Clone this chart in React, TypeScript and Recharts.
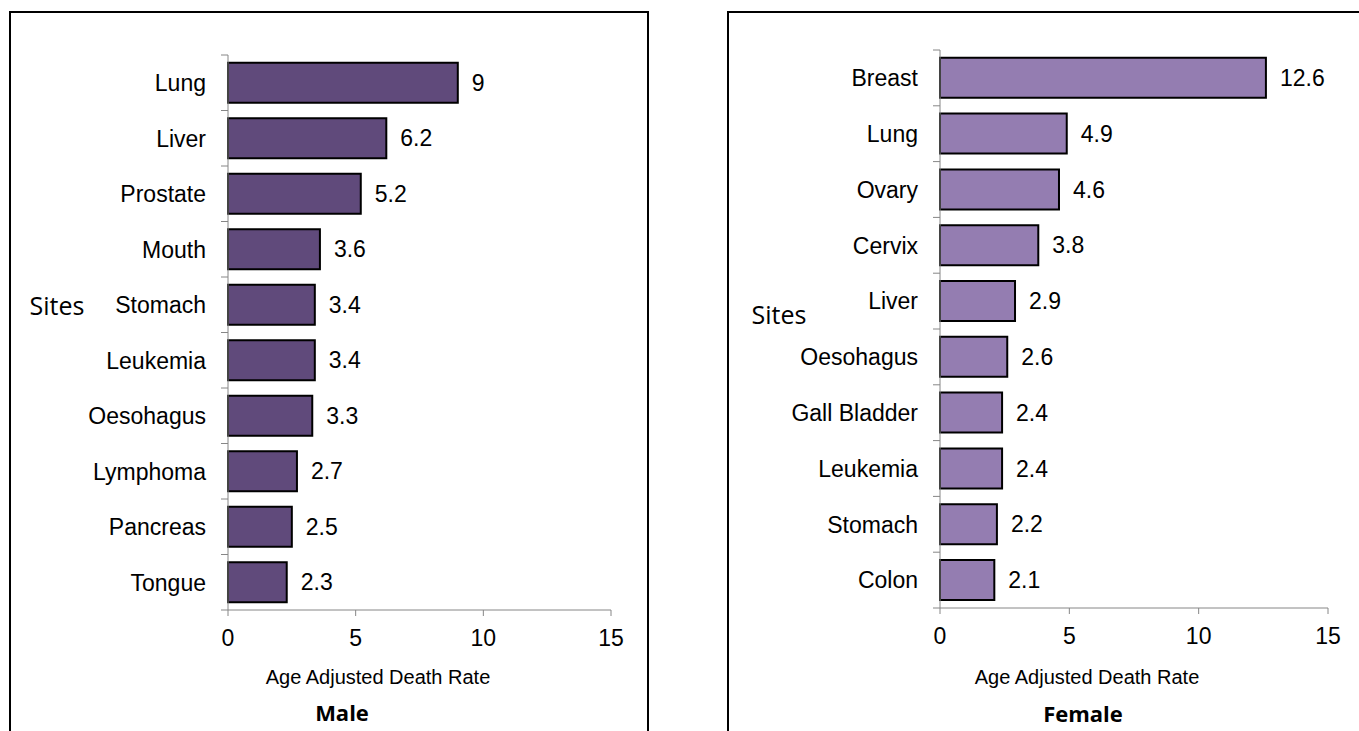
import React from "react";
import { Bar, BarChart, LabelList, XAxis, YAxis } from "recharts";

const maleSites = ["Lung", "Liver", "Prostate", "Mouth", "Stomach", "Leukemia", "Oesohagus", "Lymphoma", "Pancreas", "Tongue"];
const maleRates = [9, 6.2, 5.2, 3.6, 3.4, 3.4, 3.3, 2.7, 2.5, 2.3];

const femaleSites = ["Breast", "Lung", "Ovary", "Cervix", "Liver", "Oesohagus", "Gall Bladder", "Leukemia", "Stomach", "Colon"];
const femaleRates = [12.6, 4.9, 4.6, 3.8, 2.9, 2.6, 2.4, 2.4, 2.2, 2.1];

const rateTicks = [0, 5, 10, 15];

const AXIS_GREY = "#868686";
const ARIAL = "'Liberation Sans', Arial, sans-serif";
const CALIBRI = "'Open Sans', 'Noto Sans', sans-serif";
const Y_TICK_SIZE = 7;
const Y_TICK_GAP = 15;

function SiteTick(props: any) {
  const { x, y, payload, index, visibleTicksCount } = props;
  const half = payload?.offset ?? 27.75;
  const axisX = x + Y_TICK_GAP + Y_TICK_SIZE;
  return (
    <g>
      <line x1={axisX - Y_TICK_SIZE} x2={axisX} y1={y - half} y2={y - half} stroke={AXIS_GREY} />
      {index === visibleTicksCount - 1 && (
        <line x1={axisX - Y_TICK_SIZE} x2={axisX} y1={y + half} y2={y + half} stroke={AXIS_GREY} />
      )}
      <text x={x} y={y} dy="0.36em" textAnchor="end" fontSize={23} fontFamily={ARIAL} fill="#000">
        {payload.value}
      </text>
    </g>
  );
}

type PanelProps = {
  sites: string[];
  rates: number[];
  color: string;
  left: number;
  width: number;
  yAxisWidth: number;
  rightMargin: number;
  top: number;
  bottom: number;
};

function SitePanel({ sites, rates, color, left, width, yAxisWidth, rightMargin, top, bottom }: PanelProps) {
  const data = sites.map((site, i) => ({ site, rate: rates[i] }));
  return (
    <div style={{ position: "absolute", left, top: 0 }}>
      <BarChart
        width={width}
        height={731}
        data={data}
        layout="vertical"
        barCategoryGap="14%"
        margin={{ top, right: rightMargin, bottom: 0, left: 0 }}
      >
        <XAxis
          type="number"
          domain={[0, 15]}
          ticks={rateTicks}
          height={731 - bottom}
          tickSize={6}
          tickMargin={14}
          axisLine={{ stroke: AXIS_GREY }}
          tickLine={{ stroke: AXIS_GREY }}
          tick={{ fontSize: 23, fontFamily: ARIAL, fill: "#000" }}
        />
        <YAxis
          type="category"
          dataKey="site"
          width={yAxisWidth}
          interval={0}
          tickSize={Y_TICK_SIZE}
          tickMargin={Y_TICK_GAP}
          tickLine={false}
          axisLine={{ stroke: AXIS_GREY }}
          tick={<SiteTick />}
        />
        <Bar dataKey="rate" fill={color} stroke="#000" strokeWidth={2} isAnimationActive={false}>
          <LabelList
            dataKey="rate"
            position="right"
            offset={14}
            style={{ fontSize: 23, fontFamily: ARIAL, fill: "#000" }}
          />
        </Bar>
      </BarChart>
    </div>
  );
}

function TextAt({ x, y, children, style }: { x: number; y: number; children: React.ReactNode; style: React.CSSProperties }) {
  return (
    <div
      style={{
        position: "absolute",
        left: x,
        top: y,
        transform: "translate(-50%, -50%)",
        lineHeight: 1,
        whiteSpace: "nowrap",
        ...style,
      }}
    >
      {children}
    </div>
  );
}

export default function App() {
  const titleStyle = { fontSize: 20, fontFamily: ARIAL, color: "#000" };
  const panelTitle = { fontSize: 22, fontFamily: CALIBRI, fontWeight: 700, color: "#000" };
  const sitesStyle = { fontSize: 25, fontFamily: CALIBRI, color: "#000" };
  return (
    <div style={{ position: "absolute", left: 0, top: 0, width: 1359, height: 731, overflow: "hidden", background: "#fff" }}>
      <div style={{ position: "absolute", left: 9, top: 11, width: 640, height: 760, border: "2px solid #000", boxSizing: "border-box" }} />
      <div style={{ position: "absolute", left: 727, top: 11, width: 660, height: 760, border: "2px solid #000", boxSizing: "border-box" }} />

      <SitePanel sites={maleSites} rates={maleRates} color="#604A7B" left={0} width={660} yAxisWidth={228} rightMargin={49} top={55} bottom={610} />
      <SitePanel sites={femaleSites} rates={femaleRates} color="#947DB1" left={700} width={659} yAxisWidth={240} rightMargin={31} top={50} bottom={608} />

      <TextAt x={57} y={305} style={sitesStyle}>Sites</TextAt>
      <TextAt x={779} y={314} style={sitesStyle}>Sites</TextAt>

      <TextAt x={378} y={677} style={titleStyle}>Age Adjusted Death Rate</TextAt>
      <TextAt x={1087} y={677} style={titleStyle}>Age Adjusted Death Rate</TextAt>

      <TextAt x={342} y={712} style={panelTitle}>Male</TextAt>
      <TextAt x={1083} y={713} style={panelTitle}>Female</TextAt>
    </div>
  );
}
